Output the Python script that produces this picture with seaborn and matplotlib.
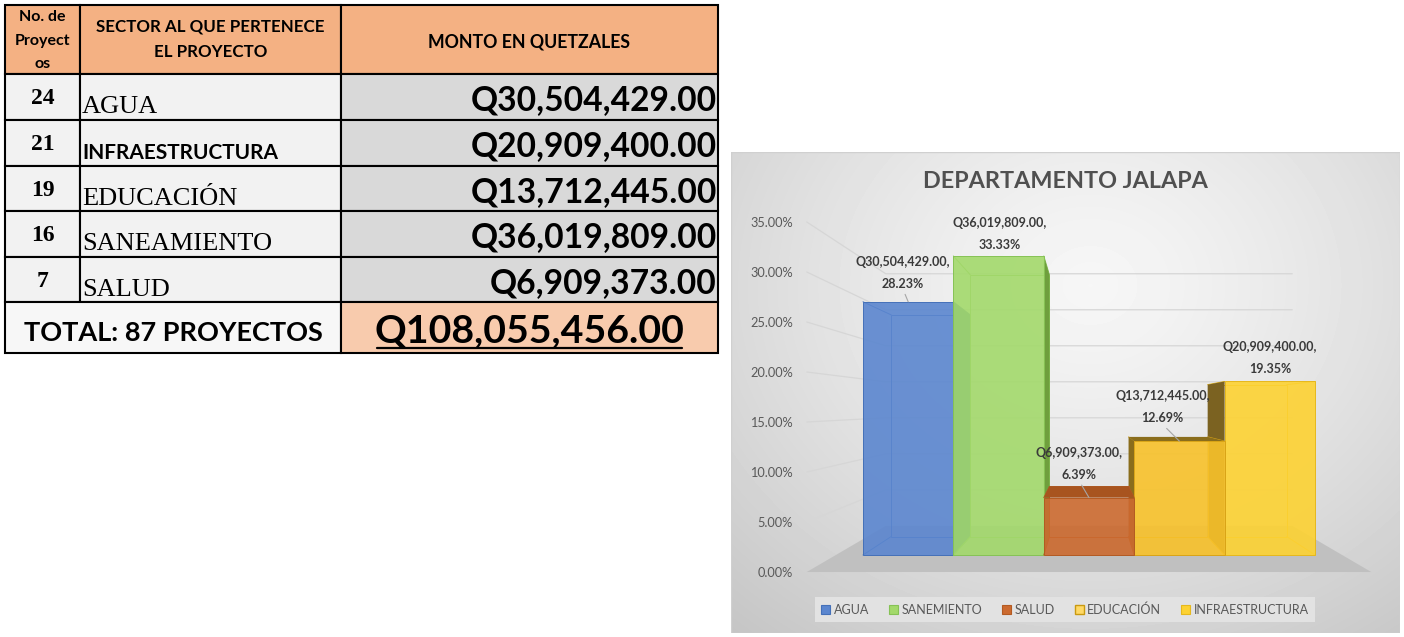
import numpy as np
import pandas as pd
import matplotlib
matplotlib.use("Agg")
import matplotlib.pyplot as plt
import seaborn as sns
from matplotlib.patches import Rectangle, Polygon, Patch
from matplotlib.colors import to_rgba
from matplotlib.ticker import PercentFormatter

# --- table data ---
TABLE_SECTORS = ["AGUA", "INFRAESTRUCTURA", "EDUCACIÓN", "SANEAMIENTO", "SALUD"]
TABLE_PROJECTS = [24, 21, 19, 16, 7]
TABLE_AMOUNTS = [30504429.00, 20909400.00, 13712445.00, 36019809.00, 6909373.00]
TABLE_HEADERS = ["No. de\nProyect\nos", "SECTOR AL QUE PERTENECE\nEL PROYECTO", "MONTO EN QUETZALES"]

# --- chart data (column order) ---
CHART_SECTORS = ["AGUA", "SANEMIENTO", "SALUD", "EDUCACIÓN", "INFRAESTRUCTURA"]
CHART_AMOUNTS = [30504429.00, 36019809.00, 6909373.00, 13712445.00, 20909400.00]
YTICKS = [0, 5, 10, 15, 20, 25, 30, 35]
TITLE = "DEPARTAMENTO JALAPA"

# colours
CHART_COLORS = ["#5b86cf", "#a3d96b", "#cc6a2f", "#f8c22a", "#fdd232"]
SIDE_COLORS = ["#3f64a8", "#6f9f3d", "#a8541f", "#8a6d1c", "#7b6221"]
EDGE_COLORS = ["#4470b8", "#86c255", "#b35a22", "#d9a416", "#e6b81c"]

# layout (pixels of the 1404x637 picture)
W, H = 1404, 637
COL_EDGES = [5, 80, 341, 718]
ROW_EDGES = [5, 74, 120, 166, 211, 257, 302, 353]
NAME_IS_SERIF = [True, False, True, True, True]
CHART_BOX = (731, 152, 669, 481)
# pseudo 3-D perspective (front plane data coords)
XV, YV = 2.0, 16.5
R_BACK, R_LABEL, R_WALL = 0.875, 1.115, 0.803
FLOOR_X = (-0.8, 4.8)
LABEL_OFFSETS = [(-5, 29), (1, 22), (-10, 34), (-17, 34), (0, 23)]
LEADERS = [True, False, True, True, False]

sns.set_style("white")
plt.rcParams["font.family"] = ["Lato", "DejaVu Sans"]
SERIF = ["Liberation Serif", "DejaVu Serif"]
INK = "black"


def box(x, y, w, h):
    return [x / W, 1 - (y + h) / H, w / W, h / H]


def proj(x, y, r):
    return XV + r * (x - XV), YV + r * (y - YV)


fig = plt.figure(figsize=(W / 100, H / 100), dpi=100)
fig.patch.set_facecolor("white")

# ---------------- table ----------------
ax_t = fig.add_axes(box(0, 0, 720, 360))
ax_t.set_xlim(0, 720)
ax_t.set_ylim(360, 0)
ax_t.axis("off")

BORDER = dict(edgecolor="black", linewidth=1.5)
for j in range(3):
    ax_t.add_patch(Rectangle((COL_EDGES[j], ROW_EDGES[0]), COL_EDGES[j + 1] - COL_EDGES[j],
                             ROW_EDGES[1] - ROW_EDGES[0], facecolor="#f4b183", **BORDER))
for i in range(len(TABLE_SECTORS)):
    top, bot = ROW_EDGES[i + 1], ROW_EDGES[i + 2]
    for j in range(3):
        fc = "#d9d9d9" if j == 2 else "#f2f2f2"
        ax_t.add_patch(Rectangle((COL_EDGES[j], top), COL_EDGES[j + 1] - COL_EDGES[j], bot - top,
                                 facecolor=fc, **BORDER))
tt, tb = ROW_EDGES[-2], ROW_EDGES[-1]
ax_t.add_patch(Rectangle((COL_EDGES[0], tt), COL_EDGES[2] - COL_EDGES[0], tb - tt, facecolor="#f7f7f7", **BORDER))
ax_t.add_patch(Rectangle((COL_EDGES[2], tt), COL_EDGES[3] - COL_EDGES[2], tb - tt, facecolor="#f8cbad", **BORDER))

hy = (ROW_EDGES[0] + ROW_EDGES[1]) / 2
ax_t.text((COL_EDGES[0] + COL_EDGES[1]) / 2, hy + 1, TABLE_HEADERS[0], ha="center", va="center",
          fontsize=11.5, fontweight="bold", linespacing=1.85, color=INK)
ax_t.text((COL_EDGES[1] + COL_EDGES[2]) / 2, hy, TABLE_HEADERS[1], ha="center", va="center",
          fontsize=12.2, fontweight="bold", linespacing=1.7, color=INK)
ax_t.text((COL_EDGES[2] + COL_EDGES[3]) / 2, hy + 2, TABLE_HEADERS[2], ha="center", va="center",
          fontsize=12.8, fontweight="bold", color=INK)

for i, (name, n, amt) in enumerate(zip(TABLE_SECTORS, TABLE_PROJECTS, TABLE_AMOUNTS)):
    top = ROW_EDGES[i + 1]
    ax_t.text((COL_EDGES[0] + COL_EDGES[1]) / 2, top + 30, str(n), ha="center", va="baseline",
              family=SERIF, fontsize=17, fontweight="bold", color=INK)
    if NAME_IS_SERIF[i]:
        ax_t.text(COL_EDGES[1] + 2, top + 39, name, ha="left", va="baseline", family=SERIF,
                  fontsize=19, color=INK)
    else:
        ax_t.text(COL_EDGES[1] + 2, top + 39, name, ha="left", va="baseline", fontsize=15,
                  fontweight="bold", color=INK)
    ax_t.text(COL_EDGES[3] - 1, top + 36, f"Q{amt:,.2f}", ha="right", va="baseline",
              fontsize=24.2, fontweight="bold", color=INK)

ax_t.text((COL_EDGES[0] + COL_EDGES[2]) / 2, tt + 39, f"TOTAL: {sum(TABLE_PROJECTS)} PROYECTOS",
          ha="center", va="baseline", fontsize=19.5, fontweight="bold", color=INK)
total_txt = ax_t.text((COL_EDGES[2] + COL_EDGES[3]) / 2, tt + 40, f"Q{sum(TABLE_AMOUNTS):,.2f}",
                      ha="center", va="baseline", fontsize=28.3, fontweight="bold", color=INK)

# ---------------- chart ----------------
ax_bg = fig.add_axes(box(*CHART_BOX))
ax_bg.axis("off")
x0c, y0c, wc, hc = CHART_BOX
yy, xx = np.mgrid[0:hc, 0:wc]
d = np.hypot((xx + x0c - 1090) / 560, (yy + y0c - 285) / 470)
shade = np.clip(0.965 - 0.2 * d ** 1.3, 0, 1)
ax_bg.imshow(shade, cmap="gray", vmin=0, vmax=1, aspect="auto", interpolation="bilinear")
ax_bg.add_patch(Rectangle((0, 0), 1, 1, transform=ax_bg.transAxes, fill=False,
                          edgecolor="#d0d0d0", lw=1))

ax = fig.add_axes(box(*CHART_BOX))
ax.set_facecolor("none")
shares = [a / sum(CHART_AMOUNTS) * 100 for a in CHART_AMOUNTS]
df = pd.DataFrame({"sector": CHART_SECTORS, "share": shares})
sns.barplot(data=df, x="sector", y="share", hue="sector", palette=dict(zip(CHART_SECTORS, CHART_COLORS)),
            width=1.0, saturation=1, legend=False, ax=ax)
bars = list(ax.patches)
ax.set_xlim(-1.960, 5.440)
ax.set_ylim(-8.696, 44.93)
ax.set_xticks([])
ax.set_yticks([])
ax.set_xlabel("")
ax.set_ylabel("")
for s in ax.spines.values():
    s.set_visible(False)

# floor
fl = [proj(FLOOR_X[0], 0, R_LABEL), proj(FLOOR_X[1], 0, R_LABEL),
      proj(FLOOR_X[1], 0, R_WALL), proj(FLOOR_X[0], 0, R_WALL)]
ax.add_patch(Polygon(fl, closed=True, facecolor="#c0c0c0", edgecolor="none", zorder=1))

# side wall + back wall gridlines
for t in YTICKS[1:]:
    a = proj(FLOOR_X[0], t, R_LABEL)
    b = proj(FLOOR_X[0], t, R_WALL)
    c = proj(FLOOR_X[1], t, R_WALL)
    ax.plot([a[0], b[0], c[0]], [a[1], b[1], c[1]], color="#d6d6d6", lw=0.9, zorder=1.2)

# 3-D boxes, drawn from the outside in
order = sorted(range(len(bars)), key=lambda k: -abs(bars[k].get_x() + bars[k].get_width() / 2 - XV))
for rank, i in enumerate(order):
    bar = bars[i]
    x0 = bar.get_x()
    x1 = x0 + bar.get_width()
    h = bar.get_height()
    cx = (x0 + x1) / 2
    base = 2 + rank
    fb = [(x0, 0), (x1, 0), (x1, h), (x0, h)]
    bb = [proj(px, py, R_BACK) for px, py in fb]
    ax.add_patch(Polygon(bb, closed=True, fill=False, edgecolor=EDGE_COLORS[i], lw=0.7, zorder=base + 0.1))
    for (fx_, fy_), (bx_, by_) in zip(fb, bb):
        ax.plot([fx_, bx_], [fy_, by_], color=EDGE_COLORS[i], lw=0.7, zorder=base + 0.1)
    if cx < XV:
        side = [fb[1], fb[2], bb[2], bb[1]]
    elif cx > XV:
        side = [fb[0], fb[3], bb[3], bb[0]]
    else:
        side = None
    if side:
        ax.add_patch(Polygon(side, closed=True, facecolor=SIDE_COLORS[i], edgecolor="none", zorder=base + 0.2))
    if h < YV:
        topf = [fb[3], fb[2], bb[2], bb[3]]
        ax.add_patch(Polygon(topf, closed=True, facecolor=SIDE_COLORS[i], edgecolor="none", zorder=base + 0.3))
    bar.set_facecolor(to_rgba(CHART_COLORS[i], 0.9))
    bar.set_edgecolor(EDGE_COLORS[i])
    bar.set_linewidth(0.7)
    bar.set_zorder(base + 0.5)

# data labels
for i, bar in enumerate(bars):
    cx = bar.get_x() + bar.get_width() / 2
    h = bar.get_height()
    txt = f"Q{CHART_AMOUNTS[i]:,.2f},\n{shares[i]:.2f}%"
    kw = dict(xy=(cx, h), xytext=LABEL_OFFSETS[i], textcoords="offset pixels", ha="center", va="center",
              fontsize=9, fontweight="bold", color="#3a3a3a", linespacing=2.0, zorder=30)
    if LEADERS[i]:
        kw["arrowprops"] = dict(arrowstyle="-", color="#a6a6a6", lw=0.8, relpos=(0.5, 0), shrinkA=1, shrinkB=0)
    ax.annotate(txt, **kw)

# y axis labels on the front edge of the side wall
to_label = lambda v: YV + (v - YV) / R_LABEL
to_front = lambda p: YV + (p - YV) * R_LABEL
xl = proj(FLOOR_X[0], 0, R_LABEL)[0]
lim = ax.get_xlim()
sec = ax.secondary_yaxis((xl - lim[0]) / (lim[1] - lim[0]), functions=(to_label, to_front))
sec.set_yticks(YTICKS)
sec.yaxis.set_major_formatter(PercentFormatter(decimals=2))
sec.tick_params(length=0, pad=10, labelsize=9.2, labelcolor="#595959")
for s in sec.spines.values():
    s.set_visible(False)

fig.text(1065 / W, 1 - 182 / H, TITLE, ha="center", va="center", fontsize=16.8, fontweight="bold",
         color="#505050")

handles = [Patch(facecolor=c, edgecolor=e, lw=0.8) for c, e in zip(CHART_COLORS, EDGE_COLORS)]
handles[3] = Patch(facecolor="#ffd966", edgecolor="#c99a10", lw=1.0)
leg = ax.legend(handles, CHART_SECTORS, loc="center", bbox_to_anchor=(1065 / W, 1 - 609.5 / H),
                bbox_transform=fig.transFigure, ncol=5, frameon=True, fancybox=False, facecolor="#e2e2e2",
                edgecolor="none", framealpha=1, fontsize=9, handlelength=0.7, handleheight=0.7,
                handletextpad=0.3, columnspacing=1.6, borderpad=0.5, labelcolor="#595959")

# underline of the total amount
fig.canvas.draw()
ext = total_txt.get_window_extent(fig.canvas.get_renderer())
inv = ax_t.transData.inverted()
(ux0, _), (ux1, _) = inv.transform([(ext.x0, ext.y0), (ext.x1, ext.y0)])
ax_t.plot([ux0 + 2, ux1 - 2], [tt + 46, tt + 46], color="black", lw=1.6)

fig.savefig("out.png", dpi=100, facecolor="white")
